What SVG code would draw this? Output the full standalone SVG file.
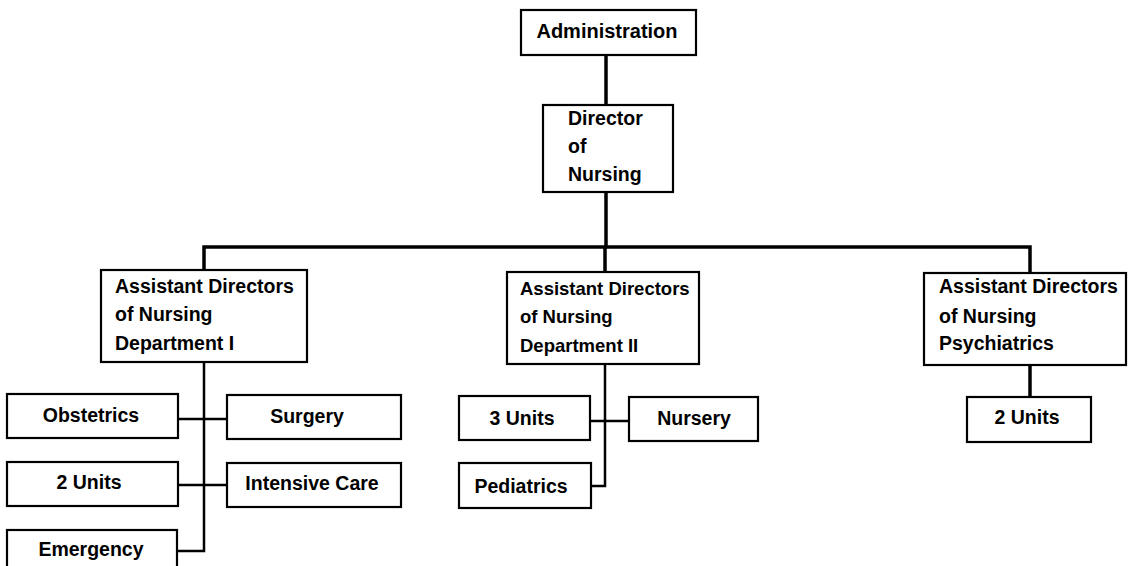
<svg xmlns="http://www.w3.org/2000/svg" width="1129" height="566" viewBox="0 0 1129 566">
<style>
.box{fill:#fff;stroke:#000;stroke-width:2.2}
.t{font-family:"Liberation Sans",Arial,sans-serif;font-weight:bold;font-size:19.5px;fill:#000}
.c{text-anchor:middle}
.s{font-size:18.5px}
.main{fill:none;stroke:#000;stroke-width:3.5}
.sub{fill:none;stroke:#000;stroke-width:2.5}
</style>
<rect width="1129" height="566" fill="#fff"/>
<g id="connectors">
<path class="main" d="M606 55 V105"/>
<path class="main" d="M606 192 V247"/>
<path class="main" d="M204 270 V247 H1030 V273"/>
<path class="main" d="M605 247 V272"/>
<path class="sub" d="M204 362 V551 H177"/>
<path class="sub" d="M178 419 H227"/>
<path class="sub" d="M178 485 H227"/>
<path class="sub" d="M605 364 V486 H591"/>
<path class="sub" d="M590 421 H629"/>
<path class="main" d="M1030 365 V397"/>
</g>
<g id="administration">
<rect class="box" x="521" y="10" width="175" height="45"/>
<text class="t c" x="607" y="38" style="font-size:20px">Administration</text>
</g>
<g id="director">
<rect class="box" x="543" y="105" width="130" height="87"/>
<text class="t" x="568" y="125">Director</text>
<text class="t" x="568" y="153">of</text>
<text class="t" x="568" y="181">Nursing</text>
</g>
<g id="dept1">
<rect class="box" x="101" y="270" width="206" height="92"/>
<text class="t" x="115" y="293">Assistant Directors</text>
<text class="t" x="115" y="321">of Nursing</text>
<text class="t" x="115" y="350">Department I</text>
</g>
<g id="dept2">
<rect class="box" x="507" y="272" width="192" height="92"/>
<text class="t s" x="520" y="295">Assistant Directors</text>
<text class="t s" x="520" y="323">of Nursing</text>
<text class="t s" x="520" y="352">Department II</text>
</g>
<g id="psych">
<rect class="box" x="924" y="273" width="202" height="92"/>
<text class="t" x="939" y="293">Assistant Directors</text>
<text class="t" x="939" y="323">of Nursing</text>
<text class="t" x="939" y="350">Psychiatrics</text>
</g>
<g id="obstetrics">
<rect class="box" x="7" y="394" width="171" height="44"/>
<text class="t c" x="91" y="422">Obstetrics</text>
</g>
<g id="surgery">
<rect class="box" x="227" y="395" width="174" height="44"/>
<text class="t c" x="307" y="423">Surgery</text>
</g>
<g id="units2a">
<rect class="box" x="7" y="462" width="171" height="44"/>
<text class="t c" x="89" y="489">2 Units</text>
</g>
<g id="intensive">
<rect class="box" x="227" y="463" width="174" height="44"/>
<text class="t c" x="312" y="490">Intensive Care</text>
</g>
<g id="emergency">
<rect class="box" x="7" y="530" width="170" height="45"/>
<text class="t c" x="91" y="556">Emergency</text>
</g>
<g id="units3">
<rect class="box" x="459" y="396" width="131" height="44"/>
<text class="t c" x="522" y="425">3 Units</text>
</g>
<g id="nursery">
<rect class="box" x="629" y="397" width="129" height="44"/>
<text class="t c" x="694" y="425">Nursery</text>
</g>
<g id="pediatrics">
<rect class="box" x="459" y="463" width="132" height="45"/>
<text class="t c" x="521" y="493">Pediatrics</text>
</g>
<g id="units2b">
<rect class="box" x="967" y="397" width="124" height="45"/>
<text class="t c" x="1027" y="424">2 Units</text>
</g>
</svg>
